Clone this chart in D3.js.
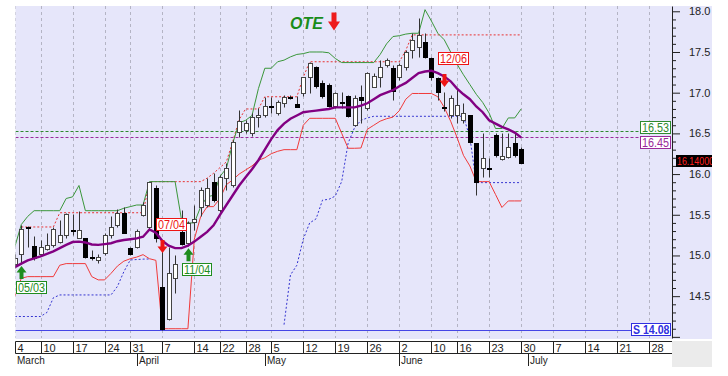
<!doctype html>
<html>
<head>
<meta charset="utf-8">
<title>OTE daily chart</title>
<script src="https://cdnjs.cloudflare.com/ajax/libs/d3/7.8.5/d3.min.js"></script>
<style>
  body { margin: 0; background: #fff; }
  svg { display: block; font-family: "Liberation Sans", Arial, sans-serif; }
</style>
</head>
<body>
<svg width="728" height="376"></svg>
<script>
// ---- data (one entry per trading day) ----
const opens = [14.90, 15.02, 15.35, 15.12, 15.02, 15.08, 15.13, 15.17, 15.25, 15.31,
  15.22, 15.21, 14.98, 14.945, 15.03, 15.25, 15.375, 15.525, 15.09, 15.11,
  15.50, 15.35, 15.825, 14.617, 14.216, 14.72, 15.293, 15.15, 15.41, 15.60,
  15.62, 15.907, 15.56, 15.95, 15.866, 16.52, 16.54, 16.50, 16.697, 16.73,
  16.84, 16.75, 16.87, 16.95, 16.86, 16.99, 17.197, 17.31, 17.12, 17.095,
  16.835, 16.88, 16.96, 16.60, 16.945, 16.81, 17.074, 17.197, 17.34, 17.30,
  17.19, 17.32, 17.525, 17.566, 17.627, 17.423, 17.177, 16.83, 16.726, 16.726,
  16.665, 16.726, 16.386, 16.071, 16.075, 16.48, 16.182, 16.214, 16.378, 16.31];
const highs = [15.02, 15.37, 15.36, 15.24, 15.19, 15.28, 15.354, 15.44, 15.52, 15.51,
  15.55, 15.22, 15.07, 15.02, 15.27, 15.48, 15.567, 15.59, 15.10, 15.33,
  15.66, 15.907, 15.866, 15.11, 15.11, 15.006, 15.56, 15.42, 15.62, 15.846,
  15.948, 16.01, 15.99, 16.13, 16.42, 16.787, 16.665, 16.75, 16.81, 16.95,
  16.95, 16.91, 16.97, 16.97, 16.96, 17.197, 17.38, 17.33, 17.15, 17.115,
  17.013, 17.01, 16.97, 16.97, 17.095, 17.26, 17.24, 17.40, 17.42, 17.34,
  17.36, 17.52, 17.73, 17.914, 17.73, 17.443, 17.197, 17.01, 16.97, 17.054,
  16.87, 16.726, 16.386, 16.50, 16.194, 16.50, 16.50, 16.50, 16.50, 16.337];
const lows = [14.85, 14.90, 15.10, 14.945, 14.99, 15.07, 15.11, 15.15, 15.22, 15.25,
  15.21, 14.965, 14.945, 14.91, 15.01, 15.22, 15.354, 15.27, 15.006, 15.09,
  15.48, 15.31, 15.17, 14.08, 14.21, 14.536, 15.13, 15.12, 15.31, 15.48,
  15.60, 15.66, 15.54, 15.80, 15.846, 16.46, 16.50, 16.47, 16.58, 16.70,
  16.75, 16.73, 16.83, 16.92, 16.82, 16.96, 17.0, 17.06, 16.94, 16.829,
  16.808, 16.81, 16.706, 16.59, 16.624, 16.79, 17.066, 17.074, 17.32, 16.91,
  17.16, 17.28, 17.42, 17.443, 17.42, 17.156, 16.91, 16.77, 16.685, 16.624,
  16.624, 16.378, 15.743, 15.968, 15.968, 16.214, 16.173, 16.194, 16.214, 16.14];
const closes = [14.97, 15.33, 15.34, 14.965, 15.11, 15.125, 15.32, 15.25, 15.51, 15.30,
  15.31, 14.98, 14.965, 14.985, 15.25, 15.35, 15.525, 15.28, 15.02, 15.30,
  15.62, 15.907, 15.21, 14.10, 14.78, 14.896, 15.142, 15.40, 15.45, 15.805,
  15.825, 15.682, 15.97, 16.07, 16.40, 16.65, 16.632, 16.706, 16.73, 16.84,
  16.835, 16.89, 16.95, 16.94, 16.83, 17.19, 17.361, 17.08, 16.955, 16.835,
  16.995, 16.87, 16.715, 16.93, 16.905, 17.238, 17.21, 17.32, 17.40, 17.02,
  17.34, 17.50, 17.648, 17.709, 17.443, 17.197, 17.013, 16.82, 16.93, 16.849,
  16.747, 16.399, 15.907, 16.194, 16.07, 16.235, 16.222, 16.337, 16.235, 16.14];

// moving average (purple)
const movingAvg = [14.855, 14.90, 14.94, 14.965, 14.99, 15.02, 15.05, 15.09, 15.13, 15.165,
  15.17, 15.16, 15.135, 15.13, 15.14, 15.15, 15.175, 15.19, 15.20, 15.21,
  15.23, 15.32, 15.28, 15.18, 15.12, 15.09, 15.09, 15.12, 15.17, 15.23,
  15.29, 15.37, 15.50, 15.62, 15.74, 15.86, 15.96, 16.06, 16.17, 16.30,
  16.43, 16.54, 16.62, 16.68, 16.72, 16.76, 16.77, 16.78, 16.79, 16.80,
  16.82, 16.82, 16.82, 16.82, 16.84, 16.87, 16.92, 16.97, 17.00, 17.03,
  17.08, 17.12, 17.18, 17.24, 17.26, 17.27, 17.24, 17.20, 17.14, 17.05,
  16.98, 16.92, 16.83, 16.76, 16.66, 16.62, 16.58, 16.55, 16.51, 16.45];

// upper channel (green)
const upperBand = [15.11, 15.38, 15.48, 15.55, 15.55, 15.55, 15.55, 15.55, 15.70, 15.72,
  15.86, 15.55, 15.55, 15.55, 15.55, 15.55, 15.55, 15.58, 15.60, 15.62,
  15.62, 15.907, 15.907, 15.907, 15.907, 15.907, 15.44, 15.40, 15.40, 15.60,
  15.72, 15.74, 15.97, 16.07, 16.38, 16.63, 16.66, 16.72, 17.05, 17.30,
  17.30, 17.38, 17.40, 17.44, 17.47, 17.48, 17.50, 17.50, 17.50, 17.49,
  17.42, 17.37, 17.37, 17.37, 17.37, 17.37, 17.37, 17.47, 17.60, 17.69,
  17.70, 17.72, 17.73, 17.73, 18.02, 17.88, 17.73, 17.65, 17.50, 17.35,
  17.22, 17.10, 16.98, 16.88, 16.75, 16.56, 16.56, 16.69, 16.69, 16.80];

// lower channel (red)
const lowerBand = [14.50, 14.72, 14.74, 14.74, 14.74, 14.74, 14.74, 14.88, 14.90, 14.90,
  14.90, 14.90, 14.74, 14.70, 14.70, 14.78, 14.87, 14.93, 14.96, 14.98,
  15.01, 14.96, 14.94, 14.10, 14.10, 14.10, 14.10, 14.10, 15.20, 15.48,
  15.60, 15.60, 15.70, 15.87, 15.93, 16.00, 16.05, 16.10, 16.17, 16.20,
  16.25, 16.28, 16.30, 16.30, 16.30, 16.60, 16.685, 16.685, 16.685, 16.685,
  16.685, 16.50, 16.317, 16.317, 16.32, 16.55, 16.60, 16.65, 16.68, 16.70,
  16.78, 16.92, 16.99, 16.99, 16.99, 16.99, 16.95, 16.82, 16.65, 16.45,
  16.23, 16.10, 15.907, 15.907, 15.907, 15.75, 15.59, 15.67, 15.67, 15.67];

// trailing stop (blue dotted), null where not drawn
const trailStop = [14.25, 14.25, 14.25, 14.25, 14.25, 14.30, 14.48, 14.515, 14.515, 14.515,
  14.515, 14.515, 14.515, 14.515, 14.515, 14.515, 14.62, 14.80, 14.945, 14.95,
  14.955, 14.957, null, null, null, null, null, null, null, null,
  null, null, null, null, null, null, null, null, null, null,
  null, null, 14.15, 14.76, 14.88, 15.20, 15.40, 15.45, 15.68, 15.69,
  15.73, 15.91, 16.38, 16.57, 16.66, 16.69, 16.71, 16.71, 16.71, 16.71,
  16.71, 16.71, 16.71, 16.71, 16.71, 16.71, 16.71, 16.71, 16.71, 16.71,
  16.71, 16.45, 15.895, 15.895, 15.895, 15.895, 15.895, 15.895, 15.895, 15.895];

// resistance (red dotted)
const resistance = [null, 15.35, 15.35, 15.35, 15.35, 15.35, 15.35, 15.525, 15.525, 15.525,
  15.525, 15.525, 15.525, 15.525, 15.525, 15.525, 15.525, 15.525, 15.525, 15.525,
  15.525, 15.907, 15.907, 15.907, 15.907, 15.907, 15.907, 15.907, 15.907, 15.907,
  15.95, 16.01, 16.08, 16.15, 16.40, 16.67, 16.80, 16.80, 16.80, 16.95,
  16.95, 16.95, 16.95, 16.95, 16.95, 17.19, 17.38, 17.38, 17.38, 17.38,
  17.38, 17.38, 17.38, 17.38, 17.38, 17.38, 17.38, 17.38, 17.38, 17.38,
  17.38, 17.52, 17.71, 17.71, 17.71, 17.71, 17.71, 17.71, 17.71, 17.71,
  17.71, 17.71, 17.71, 17.71, 17.71, 17.71, 17.71, 17.71, 17.71, 17.71];

const signals = [
  { i: 1, type: "buy", price: 14.87, label: "05/03" },
  { i: 23, type: "sell", price: 15.03, label: "07/04" },
  { i: 27, type: "buy", price: 15.09, label: "11/04" },
  { i: 67, type: "sell", price: 17.07, label: "12/06" }
];

const tickIdx = [0, 4, 9, 14, 18, 23, 28, 32, 36, 40, 45, 50, 55, 60, 65, 69, 74, 79, 84, 89, 94, 99];
const tickLabels = ["4", "10", "17", "24", "31", "7", "14", "22", "28", "5", "12", "19", "26", "2", "10", "16", "23", "30", "7", "14", "21", "28"];
const monthIdx = [0, 19, 39, 60, 80];
const monthLabels = ["March", "April", "May", "June", "July"];
const priceTicks = [14.0, 14.5, 15.0, 15.5, 16.0, 16.5, 17.0, 17.5, 18.0];

const greenLevel = 16.53;
const purpleLevel = 16.45;
const supportLevel = 14.08;
const lastPrice = 16.14;

// ---- layout ----
const svg = d3.select("svg");
const plotL = 15.5, plotR = 672, plotT = 6, plotB = 338, axisEnd = 712;

const x = d3.scaleLinear().domain([0, 99]).range([14.9, 649.3]);
const y = d3.scaleLinear().domain([13.986, 18.065]).range([plotB, plotT]);
const px = i => Math.round(x(i)) + 0.5;
const py = v => Math.round(y(v)) + 0.5;

svg.append("rect").attr("x", plotL).attr("y", plotT)
  .attr("width", axisEnd - plotL).attr("height", plotB - plotT + 1)
  .attr("fill", "#E6E6FA");
svg.append("rect").attr("x", plotR).attr("y", 341)
  .attr("width", axisEnd - plotR).attr("height", 26)
  .attr("fill", "#EBEBEB");

svg.append("defs").append("clipPath").attr("id", "plotclip")
  .append("rect").attr("x", plotL).attr("y", plotT)
  .attr("width", plotR - plotL).attr("height", plotB - plotT);

const g = svg.append("g").attr("clip-path", "url(#plotclip)");

// vertical grid
g.selectAll(".grid").data(tickIdx).join("line")
  .attr("x1", d => px(d)).attr("x2", d => px(d))
  .attr("y1", plotT).attr("y2", plotB)
  .attr("stroke", "#B4B4C4").attr("stroke-dasharray", "3,3");

// horizontal levels
g.append("line").attr("x1", plotL).attr("x2", 641).attr("y1", py(greenLevel)).attr("y2", py(greenLevel))
  .attr("stroke", "#2E8B2E").attr("stroke-dasharray", "3,2");
g.append("line").attr("x1", plotL).attr("x2", 641).attr("y1", py(purpleLevel)).attr("y2", py(purpleLevel))
  .attr("stroke", "#9A2A9A").attr("stroke-dasharray", "3,2");
g.append("line").attr("x1", plotL).attr("x2", 632).attr("y1", py(supportLevel)).attr("y2", py(supportLevel))
  .attr("stroke", "#4646E6").attr("stroke-width", 1.2);

const line = d3.line()
  .defined(d => d != null)
  .x((d, i) => x(i))
  .y(d => y(d));

g.append("path").datum(resistance).attr("d", line)
  .attr("fill", "none").attr("stroke", "#E83030").attr("stroke-dasharray", "2,2");
g.append("path").datum(trailStop).attr("d", line)
  .attr("fill", "none").attr("stroke", "#3434D0").attr("stroke-dasharray", "2,2");
g.append("path").datum(upperBand).attr("d", line)
  .attr("fill", "none").attr("stroke", "#3A963A");
g.append("path").datum(lowerBand).attr("d", line)
  .attr("fill", "none").attr("stroke", "#F03A3A");

// candles
const candles = g.selectAll(".candle").data(d3.range(opens.length)).join("g");
candles.append("line")
  .attr("x1", i => px(i)).attr("x2", i => px(i))
  .attr("y1", i => py(highs[i])).attr("y2", i => py(lows[i]))
  .attr("stroke", "#333");
candles.append("rect")
  .attr("x", i => px(i) - 2)
  .attr("width", 4)
  .attr("y", i => py(Math.max(opens[i], closes[i])))
  .attr("height", i => Math.max(1, py(Math.min(opens[i], closes[i])) - py(Math.max(opens[i], closes[i]))))
  .attr("fill", i => closes[i] >= opens[i] ? "#fff" : "#000")
  .attr("stroke", i => closes[i] >= opens[i] ? "#444" : "#000");

g.append("path").datum(movingAvg).attr("d", line)
  .attr("fill", "none").attr("stroke", "#820082").attr("stroke-width", 2.4);

// arrows: dir -1 points up, +1 points down
function arrowPath(cx, tip, dir, len, headH, headW, shaftW) {
  const base = tip - dir * len, neck = tip - dir * headH;
  return `M${cx},${tip}L${cx - headW},${neck}L${cx - shaftW},${neck}L${cx - shaftW},${base}` +
    `L${cx + shaftW},${base}L${cx + shaftW},${neck}L${cx + headW},${neck}Z`;
}

function boxLabel(parent, bx, by, text, color, opts) {
  const o = Object.assign({ size: 12, weight: "normal", fill: "#fff", h: 12, align: "left", squeeze: 0.9 }, opts || {});
  const grp = parent.append("g");
  const t = grp.append("text").attr("font-size", o.size).attr("font-weight", o.weight)
    .attr("fill", color).text(text);
  const tw = t.node().getComputedTextLength() * o.squeeze;
  t.attr("textLength", tw).attr("lengthAdjust", "spacingAndGlyphs");
  const w = tw + 3;
  const x0 = o.align === "right" ? bx - w : bx;
  grp.insert("rect", "text").attr("x", Math.round(x0) + 0.5).attr("y", by + 0.5)
    .attr("width", Math.round(w)).attr("height", o.h)
    .attr("fill", o.fill).attr("stroke", color);
  t.attr("x", Math.round(x0) + 2).attr("y", by + o.h - 1);
  return grp;
}

signals.forEach(s => {
  const cx = px(s.i);
  const tip = y(s.price);
  const up = s.type === "buy";
  const col = up ? "#1E8C1E" : "#EE1414";
  svg.append("path").attr("d", arrowPath(cx, tip, up ? -1 : 1, 13, 6.5, 5, 2)).attr("fill", col);
  const bx = Math.max(plotL, cx - 7);
  const by = up ? Math.round(tip + 15) : Math.round(tip - 13 - 10 - 12);
  boxLabel(svg, bx, by, s.label, col);
});

// title
svg.append("text").attr("x", 290).attr("y", 28.5)
  .attr("font-size", 16).attr("font-weight", "bold").attr("font-style", "italic")
  .attr("fill", "#1A8C1A").text("OTE");
svg.append("path").attr("d", arrowPath(334, 30.5, 1, 18, 9, 6, 2.5)).attr("fill", "#EE1C1C");

// price axis
const yAxis = d3.axisRight(y).tickValues(priceTicks).tickSize(8).tickSizeOuter(0).tickPadding(9)
  .tickFormat(d => d < 14.25 ? "" : d3.format(".1f")(d));
const minorTicks = d3.range(140, 181).map(v => v / 10).filter(v => priceTicks.indexOf(v) < 0);
const yMinor = d3.axisRight(y).tickValues(minorTicks).tickSize(4).tickSizeOuter(0).tickFormat("");

const ya = svg.append("g").attr("transform", `translate(${plotR},0)`).call(yAxis);
svg.append("g").attr("transform", `translate(${plotR},0)`).call(yMinor)
  .call(a => a.select(".domain").remove());
svg.selectAll(".tick line").attr("stroke", "#222");
ya.select(".domain").attr("stroke", "#222");
ya.selectAll("text").attr("font-size", 11).attr("fill", "#222")
  .attr("font-family", '"Liberation Sans", Arial, sans-serif');

// right-side labels
boxLabel(svg, 670, Math.round(y(greenLevel)) - 10, d3.format(".2f")(greenLevel), "#2E8B2E", { align: "right" });
boxLabel(svg, 670, Math.round(y(purpleLevel)) - 1, d3.format(".2f")(purpleLevel), "#9A2A9A", { align: "right" });
boxLabel(svg, 670, Math.round(y(supportLevel)) - 7, "S " + d3.format(".2f")(supportLevel), "#3030E0",
  { align: "right", weight: "bold", size: 12, squeeze: 0.88 });

svg.append("rect").attr("x", 676).attr("y", Math.round(y(lastPrice)) - 8)
  .attr("width", axisEnd - 676).attr("height", 12).attr("fill", "#000");
svg.append("text").attr("x", 677).attr("y", Math.round(y(lastPrice)) + 2)
  .attr("font-size", 11).attr("fill", "#FF2020")
  .attr("textLength", 37).attr("lengthAdjust", "spacingAndGlyphs")
  .text(d3.format(".5f")(lastPrice));
svg.append("rect").attr("x", axisEnd).attr("y", 0).attr("width", 728 - axisEnd).attr("height", 376).attr("fill", "#fff");

// date axis
const xa = svg.append("g").attr("stroke", "#222");
xa.append("line").attr("x1", plotL).attr("x2", plotR).attr("y1", 341.5).attr("y2", 341.5);
xa.append("line").attr("x1", plotL).attr("x2", plotR).attr("y1", 353.5).attr("y2", 353.5);
xa.selectAll(".sep").data(tickIdx).join("line")
  .attr("x1", d => Math.max(plotL, px(d))).attr("x2", d => Math.max(plotL, px(d)))
  .attr("y1", 341.5).attr("y2", 353.5);
xa.selectAll(".msep").data(monthIdx.slice(1)).join("line")
  .attr("x1", d => px(d)).attr("x2", d => px(d))
  .attr("y1", 353.5).attr("y2", 366);

svg.selectAll(".tlab").data(tickIdx).join("text")
  .attr("x", d => Math.max(plotL, px(d)) + 2).attr("y", 351.5)
  .attr("font-size", 11).attr("fill", "#222")
  .text((d, i) => tickLabels[i]);
svg.selectAll(".mlab").data(monthIdx).join("text")
  .attr("x", d => Math.max(plotL, px(d)) + 1.5).attr("y", 364)
  .attr("font-size", 10).attr("fill", "#222")
  .text((d, i) => monthLabels[i]);
</script>
</body>
</html>
